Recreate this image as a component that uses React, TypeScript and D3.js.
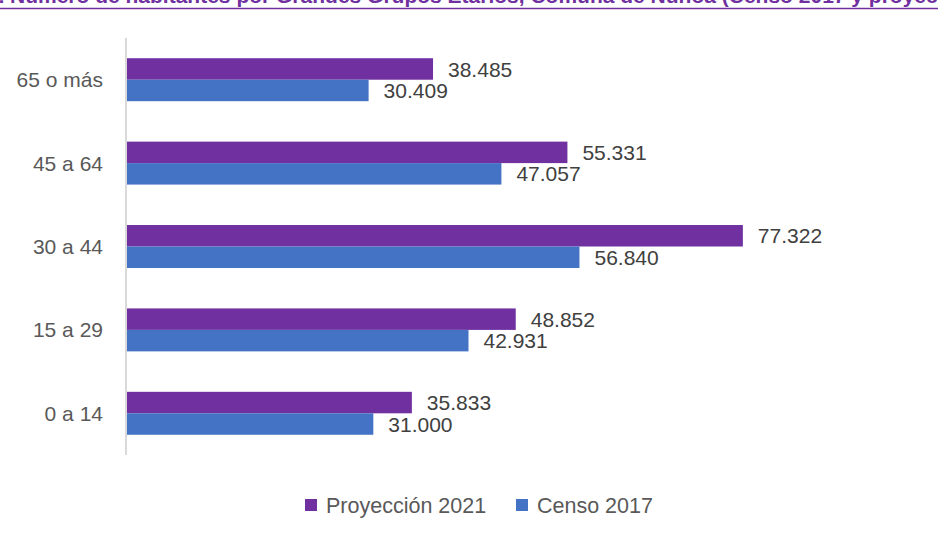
import React from "react";
import * as d3 from "d3";

const categories = ["65 o más", "45 a 64", "30 a 44", "15 a 29", "0 a 14"];
const proyeccion2021 = [38485, 55331, 77322, 48852, 35833];
const censo2017 = [30409, 47057, 56840, 42931, 31000];
const seriesNames = ["Proyección 2021", "Censo 2017"];
const titlePrefix = "Gráfico 2:";
const titleMain = "Número de habitantes por Grandes Grupos Etarios, Comuna de Ñuñoa (Censo 2017 y proyección 2021)";

const W = 938;
const H = 537;
const PURPLE = "#7030A0";
const BLUE = "#4472C4";
const FONT = "'Liberation Sans', Arial, sans-serif";

const fmt = (v: number) => d3.format(",")(v).replace(/,/g, ".");

export default function App() {
  const x = d3.scaleLinear().domain([0, 90000]).range([126, 844]);
  const y = d3.scaleBand<string>().domain(categories).range([38, 455]).paddingInner(0.485).paddingOuter(0.2425);
  const bh = y.bandwidth() / 2;
  const series = [
    { name: seriesNames[0], values: proyeccion2021, color: PURPLE },
    { name: seriesNames[1], values: censo2017, color: BLUE },
  ];
  return (
    <svg width={W} height={H} style={{ position: "absolute", left: 0, top: 0, background: "#fff" }}>
      <text x={5} y={3} textAnchor="end" fontFamily={FONT} fontWeight="bold" fontSize={21} fill={PURPLE}>{titlePrefix}</text>
      <text x={10} y={3} fontFamily={FONT} fontWeight="bold" fontSize={21} fill={PURPLE}>{titleMain}</text>
      <line x1={0} x2={W} y1={8.5} y2={8.5} stroke={PURPLE} strokeWidth={1.5} />
      {categories.map((c, i) => (
        <g key={c}>
          {series.map((s, j) => {
            const yy = (y(c) as number) + j * bh;
            return (
              <g key={s.name}>
                <rect x={x(0)} y={yy} width={x(s.values[i]) - x(0)} height={bh} fill={s.color} />
                <text x={x(s.values[i]) + 15} y={yy + bh / 2} dy="0.36em" fontFamily={FONT} fontSize={21} fill="#404040">
                  {fmt(s.values[i])}
                </text>
              </g>
            );
          })}
          <text x={103} y={(y(c) as number) + bh} dy="0.36em" textAnchor="end" fontFamily={FONT} fontSize={21} fill="#595959">
            {c}
          </text>
        </g>
      ))}
      <line x1={126} x2={126} y1={38} y2={455} stroke="#d9d9d9" strokeWidth={2} />
      <g>
        <rect x={305} y={499} width={12} height={12} fill={PURPLE} />
        <text x={326} y={505} dy="0.36em" fontFamily={FONT} fontSize={21.5} fill="#595959">{seriesNames[0]}</text>
        <rect x={516} y={499} width={12} height={12} fill={BLUE} />
        <text x={537} y={505} dy="0.36em" fontFamily={FONT} fontSize={21.5} fill="#595959">{seriesNames[1]}</text>
      </g>
    </svg>
  );
}
